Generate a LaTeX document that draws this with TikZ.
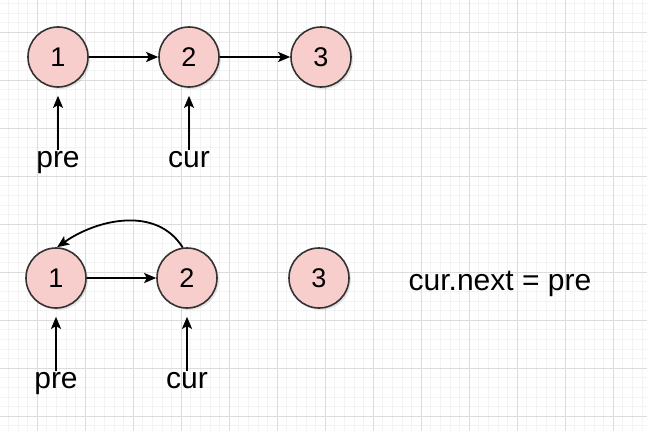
\documentclass[tikz,border=0pt]{standalone}
\usepackage{fontspec}
\setmainfont{Liberation Sans}
\usetikzlibrary{arrows.meta,shadows}
\definecolor{nodepink}{HTML}{F8CECC}
\definecolor{edgegray}{HTML}{333333}
\definecolor{gridminor}{HTML}{F3F3F3}
\definecolor{gridmajor}{HTML}{DCDCDC}
\tikzset{
  lnode/.style={circle,draw=edgegray,fill=nodepink,line width=1.6pt,minimum size=60pt,inner sep=0pt,
    font=\fontsize{27}{27}\selectfont,
    drop shadow={opacity=0.2,shadow xshift=2pt,shadow yshift=-2pt}},
  lbl/.style={inner sep=1pt,anchor=base,font=\fontsize{30}{30}\selectfont},
  arr/.style={-{Stealth[length=12pt,width=10pt,inset=2.5pt]},line width=1.8pt,black}
}
\begin{document}
\begin{tikzpicture}[x=1pt,y=-1pt]
      \useasboundingbox (0,0) rectangle (647,431);
      \fill[white] (0,0) rectangle (647,431);
      % background grid
      \foreach \i in {0,...,68} {
        \draw[gridminor,line width=0.6pt] ({37-48+9.6*\i},0) -- ({37-48+9.6*\i},431);
      }
      \foreach \i in {0,...,46} {
        \draw[gridminor,line width=0.6pt] (0,{32-48+9.6*\i}) -- (647,{32-48+9.6*\i});
      }
      \foreach \i in {0,...,13} {
        \draw[gridmajor,line width=0.8pt] ({37+48*\i},0) -- ({37+48*\i},431);
      }
      \foreach \i in {-1,...,8} {
        \draw[gridmajor,line width=0.8pt] (0,{32+48*\i}) -- (647,{32+48*\i});
      }
      % first row
          	\node[lnode] (a1) at (58,57) {1};
          	\node[lnode] (a2) at (189,57) {2};
          	\node[lnode] (a3) at (321,57) {3};
            \draw[arr] (a1) -- (a2);
            \draw[arr] (a2) -- (a3);
            \node[lbl] (pa) at (58,167) {pre};
            \node[lbl] (ca) at (189,167) {cur};
            \draw[arr,shorten >=8pt] (pa.north) -- (a1.south);
            \draw[arr,shorten >=8pt] (ca.north) -- (a2.south);
      % second row
          	\node[lnode] (b1) at (56,278) {1};
          	\node[lnode] (b2) at (187,278) {2};
          	\node[lnode] (b3) at (319,278) {3};
            \draw[arr] (b1) -- (b2);
            \draw[arr] (b2.98) to[out=122,in=35] (b1.88);
            \node[lbl] (pb) at (56,388) {pre};
            \node[lbl] (cb) at (187,388) {cur};
            \draw[arr,shorten >=8pt] (pb.north) -- (b1.south);
            \draw[arr,shorten >=8pt] (cb.north) -- (b2.south);
            \node[lbl] (eq) at (500,290) {cur.next = pre};
\end{tikzpicture}
\end{document}
